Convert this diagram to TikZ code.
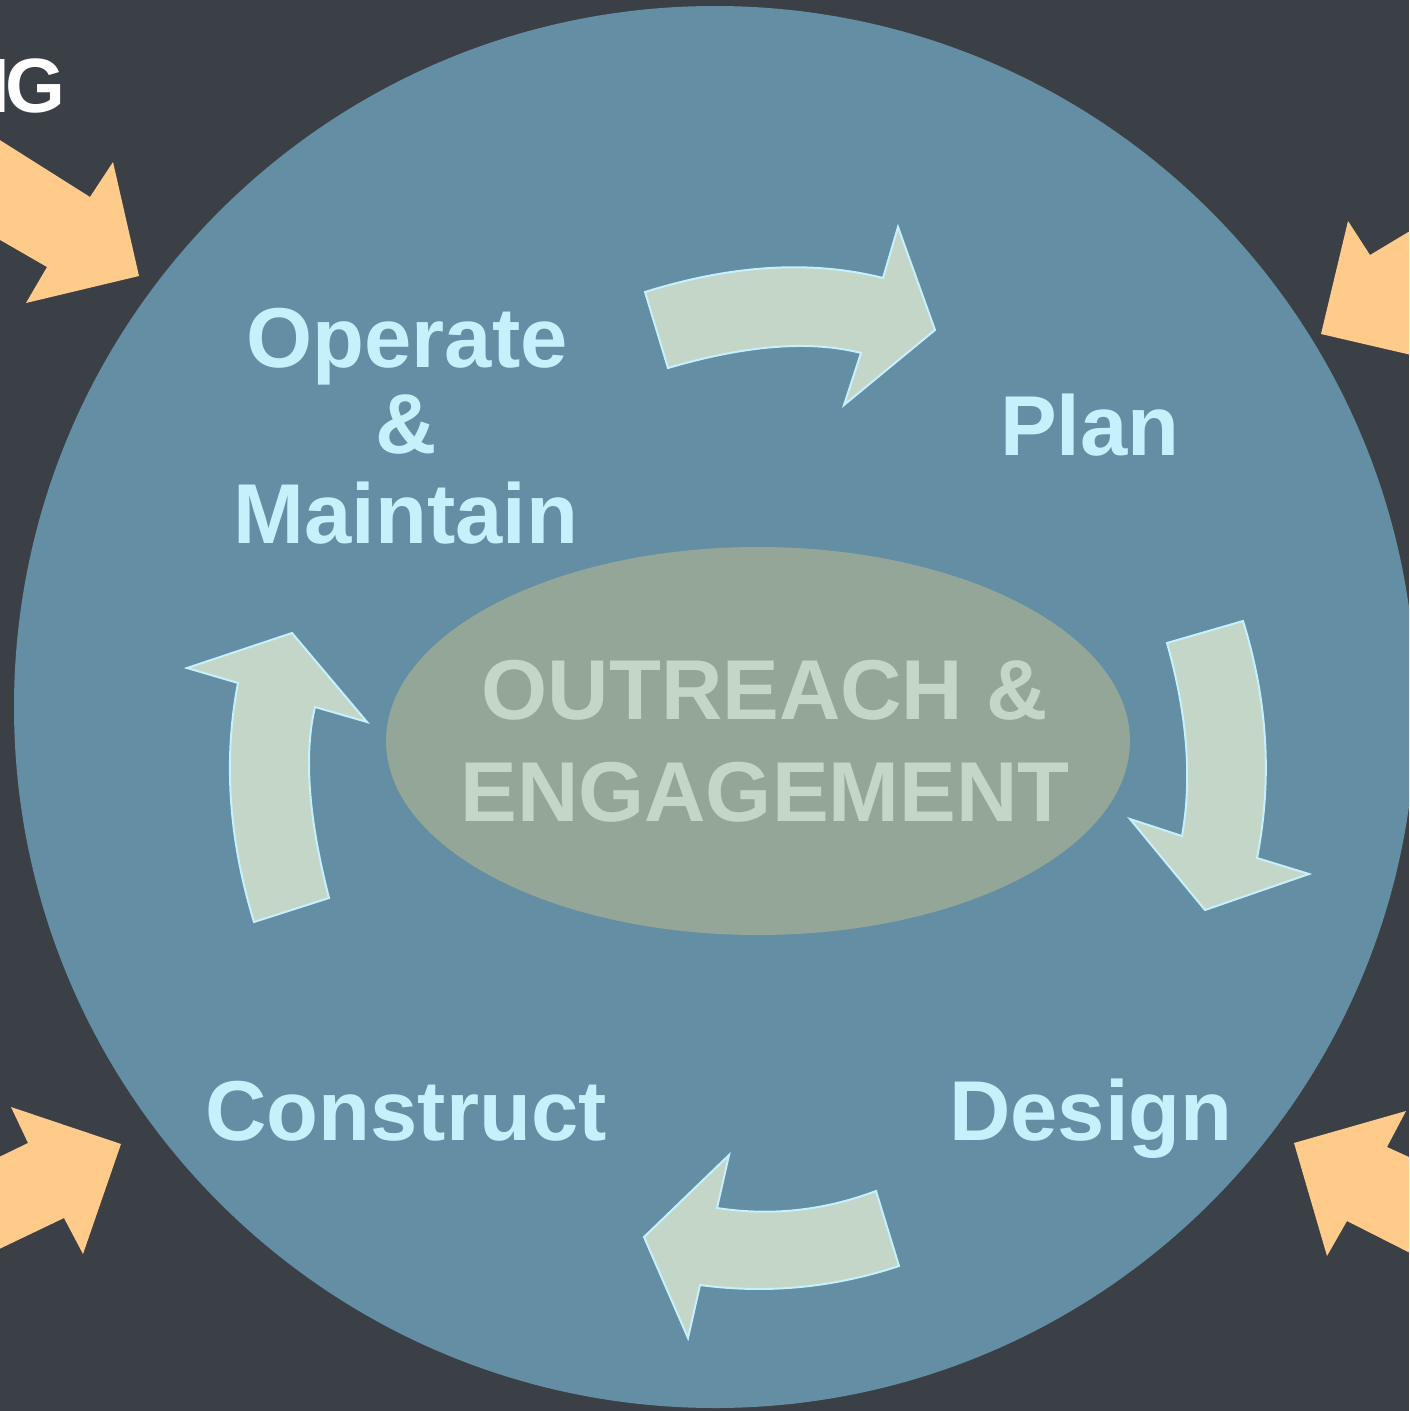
\documentclass[tikz,border=0pt]{standalone}
\usepackage{fontspec}
\setmainfont{Liberation Sans}
\definecolor{bgc}{HTML}{3B4046}
\definecolor{circc}{HTML}{638EA3}
\definecolor{ellc}{HTML}{94A698}
\definecolor{arrc}{HTML}{C4D6C8}
\definecolor{cyanc}{HTML}{C6F0FC}
\definecolor{orc}{HTML}{FFCB8B}
\tikzset{
  cyclearrow/.style={fill=arrc, draw=cyanc, line width=2pt, line join=miter},
  inarrow/.style={fill=orc},
  stagelabel/.style={text=cyanc, font=\bfseries\fontsize{85}{88}\selectfont, anchor=base, inner sep=0pt},
  centerlabel/.style={text=arrc, font=\bfseries\fontsize{85}{102}\selectfont, align=center, inner sep=0pt}
}
\begin{document}
\begin{tikzpicture}[x=1pt,y=-1pt]
\useasboundingbox (0,0) rectangle (1409,1411);
\clip (0,0) rectangle (1409,1411);
\fill[bgc] (0,0) rectangle (1409,1411);
% big circle
\fill[circc] (715,707) circle[radius=701];
% orange inward arrows
\fill[inarrow] (-5,137) -- (90,197) -- (113,162) -- (139,276) -- (26,303) -- (47,267) -- (-5,237) -- cycle;
\fill[inarrow] (1420,225) -- (1370,255) -- (1348,221) -- (1321,334) -- (1420,357) -- cycle;
\fill[inarrow] (-5,1159) -- (28,1143) -- (11,1107) -- (121,1144) -- (83,1254) -- (64,1218) -- (-5,1251) -- cycle;
\fill[inarrow] (1420,1162) -- (1387,1147) -- (1406,1111) -- (1294,1143) -- (1327,1256) -- (1347,1221) -- (1420,1258) -- cycle;
% heading fragment
\node[text=white, font=\bfseries\fontsize{77}{80}\selectfont, anchor=base east, inner sep=0pt] (head) at (66,112) {N\kern-4pt G};
% ellipse
\fill[ellc] (758,741) ellipse[x radius=372, y radius=194];
\node[centerlabel] (outreach) at (765,741) {OUTREACH \&\\ENGAGEMENT};
% cycle arrows
\draw[cyclearrow] (645,292) .. controls (732.3,264.7) and (811.7,260) .. (883,278) -- (898,227) -- (935,330) -- (844,405) -- (861,353) .. controls (810.7,340) and (746.3,345) .. (668,368) -- cycle;
\draw[cyclearrow] (1167,643) -- (1243,621) .. controls (1267.7,700.7) and (1272.3,779.7) .. (1257,858) -- (1309,874) -- (1205,910) -- (1130,819) -- (1182,836) .. controls (1192.3,779) and (1187.3,714.7) .. (1167,643) -- cycle;
\draw[cyclearrow] (899,1266) -- (876,1191) .. controls (823.7,1210.7) and (770.7,1216.3) .. (717,1208) -- (729,1155) -- (644,1237) -- (688,1338) -- (700,1285) .. controls (767,1294) and (833.3,1287.7) .. (899,1266) -- cycle;
\draw[cyclearrow] (254,922) -- (329,898) .. controls (308.3,817.7) and (303.7,754) .. (315,707) -- (367,722) -- (292,633) -- (187,668) -- (238,683) .. controls (223.3,759.3) and (228.7,839) .. (254,922) -- cycle;
% stage labels
\node[stagelabel] (operate) at (407,367) {Operate};
\node[stagelabel] (amp) at (406,453) {\&};
\node[stagelabel] (maintain) at (406,543) {Maintain};
\node[stagelabel] (plan) at (1090,455) {Plan};
\node[stagelabel] (design) at (1091,1140) {Design};
\node[stagelabel] (construct) at (406,1140) {Construct};
\end{tikzpicture}
\end{document}
